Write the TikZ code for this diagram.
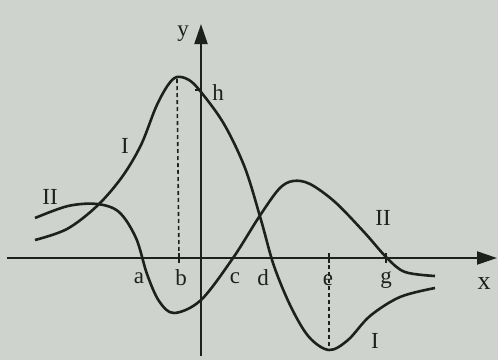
\documentclass[tikz,border=0pt]{standalone}
\usepackage{fontspec}
\setmainfont{Liberation Serif}
\usepackage{tikz}
\usetikzlibrary{arrows.meta,calc}

\begin{document}
\begin{tikzpicture}[
    x=1pt, y=-1pt,
    >={Triangle[length=20pt,width=13pt]},
    axis/.style={->,line width=2.2pt,draw=ink},
    curve/.style={line width=2.6pt,draw=ink,smooth,tension=0.55},
    guide/.style={line width=1.6pt,draw=ink,dash pattern=on 4pt off 3pt},
    tick/.style={line width=1.4pt,draw=ink},
    lbl/.style={font=\fontsize{23}{26}\selectfont,text=ink,inner sep=0pt},
  ]
  \definecolor{ink}{RGB}{30,32,30}
  \definecolor{paper}{RGB}{206,211,205}

  % photo background
  \fill[paper] (0,0) rectangle (498,360);
  \useasboundingbox (0,0) rectangle (498,360);

  % axes
  \coordinate (xs) at (7,258);
  \coordinate (xe) at (497,258);
  \coordinate (ys) at (201,356);
  \coordinate (ye) at (201,24);
  \draw[axis] (xs) -- (xe);
  \draw[axis] (ys) -- (ye);
  \node[lbl] (ylab) at (183,34) {y};
  \node[lbl,font=\fontsize{26}{28}\selectfont] (xlab) at (484,284) {x};

  % curve I
  \draw[curve] plot coordinates {(35,240) (67,229) (97,206) (122,177)
    (141,145) (156,107) (168,85) (177,77) (189,80) (201,92) (224,124)
    (245,168) (261,220) (274,266) (291,307) (309,337) (329,350)
    (348,340) (370,316) (400,297) (435,288)};

  % curve II
  \draw[curve] plot coordinates {(35,218) (68,206) (97,204) (119,212)
    (136,238) (147,274) (159,301) (174,313) (201,300) (233,258)
    (259,217) (279,189) (293,181) (310,184) (335,202) (364,232)
    (387,258) (405,272) (435,276)};

  % points on the axes
  \coordinate (pb) at (179,258);
  \coordinate (pe) at (329,258);
  \coordinate (pg) at (386,258);
  \coordinate (ph) at (201,90);
  \coordinate (top) at (177,79);
  \coordinate (low) at (329,350);
  \draw[tick] ($(pb)+(0,-5)$) -- ($(pb)+(0,5)$);
  \draw[tick] ($(pe)+(0,-5)$) -- ($(pe)+(0,5)$);
  \draw[tick] ($(pg)+(0,-5)$) -- ($(pg)+(0,5)$);
  \draw[tick] ($(ph)+(-6,0)$) -- (ph);

  % dashed guides
  \draw[guide] (top) -- (pb);
  \draw[guide] (pe) -- (low);

  % labels
  \node[lbl] (lh) at (218,93) {h};
  \node[lbl] (la) at (139,278) {a};
  \node[lbl] (lb) at (181,278) {b};
  \node[lbl] (lc) at (235,278) {c};
  \node[lbl] (ld) at (263,278) {d};
  \node[lbl] (le) at (328,280) {e};
  \node[lbl] (lg) at (386,280) {g};
  \node[lbl] (I1) at (125,146) {I};
  \node[lbl] (I2) at (375,341) {I};
  \node[lbl] (II1) at (50,197) {II};
  \node[lbl] (II2) at (383,218) {II};

\end{tikzpicture}
\end{document}
